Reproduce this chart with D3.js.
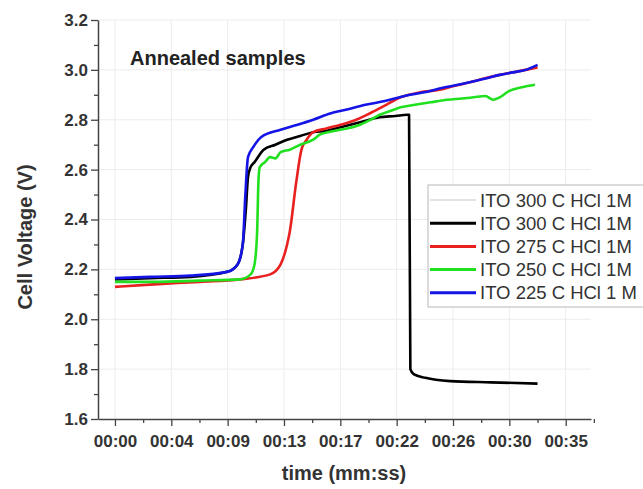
<!DOCTYPE html>
<html lang="en">
<head>
    <meta charset="UTF-8">
    <title>Annealed samples - Cell Voltage</title>
    <script src="https://d3js.org/d3.v7.min.js"></script>
    <style>
        body {
            margin: 0;
            background-color: #ffffff;
        }
        text {
            font-family: 'Liberation Sans', Arial, sans-serif;
        }
    </style>
</head>
<body>
    <script>
        // Data (time in seconds, voltage in V)
        const seriesNames = ["ITO 300 C HCl 1M", "ITO 300 C HCl 1M", "ITO 275 C HCl 1M", "ITO 250 C HCl 1M", "ITO 225 C HCl 1 M"];
        const seriesColors = ["#c8c8c8", "#000000", "#e82020", "#20e020", "#1414e6"];

        const ito300aTime = [];
        const ito300aVolt = [];

        const ito300Time = [0, 2.7, 5.8, 8.6, 9.4, 9.8, 10.05, 10.2, 10.4, 10.7, 11.4, 12.3, 13.2, 14.2, 15.2, 16.2, 17.3, 18.8, 20.3, 21.5, 22.4, 22.55, 22.65, 22.9, 23.8, 25.7, 28.8, 32.4];
        const ito300Volt = [2.16, 2.165, 2.17, 2.19, 2.22, 2.30, 2.45, 2.57, 2.61, 2.63, 2.68, 2.70, 2.72, 2.735, 2.75, 2.755, 2.77, 2.79, 2.81, 2.815, 2.82, 2.82, 1.80, 1.78, 1.765, 1.752, 1.747, 1.742];

        const ito275Time = [0, 3.0, 6.5, 9.6, 11.9, 12.7, 13.2, 13.4, 13.9, 14.3, 14.7, 15.2, 16.2, 17.3, 18.5, 19.7, 20.8, 21.9, 23.4, 24.9, 26.0, 27.2, 28.3, 29.5, 31.0, 32.4];
        const ito275Volt = [2.13, 2.14, 2.15, 2.16, 2.18, 2.22, 2.30, 2.35, 2.55, 2.68, 2.72, 2.75, 2.765, 2.78, 2.80, 2.83, 2.86, 2.89, 2.91, 2.92, 2.935, 2.95, 2.965, 2.98, 2.995, 3.01];

        const ito250Time = [0, 3.0, 6.5, 9.6, 10.4, 10.7, 10.9, 11.0, 11.1, 11.5, 11.9, 12.3, 12.7, 13.4, 14.2, 15.2, 15.7, 16.8, 17.8, 18.8, 19.6, 20.3, 21.1, 21.9, 23.0, 24.2, 25.5, 26.6, 27.5, 28.4, 29.0, 29.5, 30.2, 31.2, 32.2];
        const ito250Volt = [2.15, 2.15, 2.155, 2.16, 2.18, 2.22, 2.35, 2.55, 2.61, 2.63, 2.65, 2.645, 2.67, 2.68, 2.70, 2.72, 2.74, 2.755, 2.765, 2.78, 2.80, 2.82, 2.835, 2.85, 2.86, 2.87, 2.88, 2.885, 2.89, 2.895, 2.88, 2.89, 2.915, 2.93, 2.94];

        const ito225Time = [0, 2.7, 5.8, 8.6, 9.4, 9.8, 10.0, 10.2, 10.6, 11.2, 12.7, 14.0, 15.2, 16.5, 17.7, 19.2, 20.7, 22.2, 23.7, 25.3, 26.3, 27.2, 28.4, 29.5, 30.5, 31.5, 32.4];
        const ito225Volt = [2.165, 2.17, 2.175, 2.19, 2.22, 2.30, 2.50, 2.65, 2.69, 2.73, 2.76, 2.78, 2.80, 2.825, 2.84, 2.86, 2.875, 2.895, 2.91, 2.93, 2.94, 2.95, 2.965, 2.98, 2.99, 3.00, 3.02];

        const seriesTimes = [ito300aTime, ito300Time, ito275Time, ito250Time, ito225Time];
        const seriesVolts = [ito300aVolt, ito300Volt, ito275Volt, ito250Volt, ito225Volt];

        // x ticks every 4.32 s, labelled as mm:ss
        const xTickValues = [0, 4.32, 8.64, 12.96, 17.28, 21.6, 25.92, 30.24, 34.56];
        const xTickLabels = ["00:00", "00:04", "00:09", "00:13", "00:17", "00:22", "00:26", "00:30", "00:35"];
        const yTickValues = [1.6, 1.8, 2.0, 2.2, 2.4, 2.6, 2.8, 3.0, 3.2];

        const width = 643, height = 489;

        const x = d3.scaleLinear().domain([-1.3, 36.5]).range([98, 591]);
        const y = d3.scaleLinear().domain([1.6, 3.2]).range([419, 20]);

        const svg = d3.select("body").append("svg")
            .attr("width", width)
            .attr("height", height);

        // faint grid
        svg.append("g").selectAll("line")
            .data(xTickValues)
            .enter().append("line")
            .attr("x1", d => x(d)).attr("x2", d => x(d))
            .attr("y1", y(3.2)).attr("y2", y(1.6))
            .attr("stroke", "#ececec").attr("stroke-width", 1);
        svg.append("g").selectAll("line")
            .data(yTickValues.slice(1))
            .enter().append("line")
            .attr("x1", x.range()[0]).attr("x2", x.range()[1])
            .attr("y1", d => y(d)).attr("y2", d => y(d))
            .attr("stroke", "#ececec").attr("stroke-width", 1);

        // Lines
        const line = d3.line()
            .curve(d3.curveMonotoneX)
            .x(d => x(d[0]))
            .y(d => y(d[1]));

        seriesTimes.forEach(function(times, i) {
            if (!times.length) return;
            const pts = times.map((t, j) => [t, seriesVolts[i][j]]);
            svg.append("path")
                .datum(pts)
                .attr("fill", "none")
                .attr("stroke", seriesColors[i])
                .attr("stroke-width", 2.6)
                .attr("stroke-linejoin", "round")
                .attr("d", line);
        });

        // x axis with minor ticks
        const xMinor = xTickValues.map(d => d + 2.16);
        svg.append("g")
            .attr("transform", "translate(0," + y(1.6) + ")")
            .call(d3.axisBottom(x).tickValues(xMinor).tickSize(4).tickFormat(""))
            .call(g => g.select(".domain").remove())
            .selectAll("line").attr("stroke", "#444").attr("stroke-width", 1.3);

        const xAxis = svg.append("g")
            .attr("transform", "translate(0," + y(1.6) + ")")
            .call(d3.axisBottom(x).tickValues(xTickValues).tickSize(7).tickSizeOuter(0)
                .tickFormat((d, i) => xTickLabels[i]));
        xAxis.select(".domain").attr("stroke", "#444").attr("stroke-width", 1.5);
        xAxis.selectAll("line").attr("stroke", "#444").attr("stroke-width", 1.3);
        xAxis.selectAll("text")
            .attr("dy", "1.05em")
            .style("font-size", "17px").style("font-weight", "bold").attr("fill", "#333");

        // y axis with minor ticks
        const yMinor = yTickValues.slice(0, -1).map(d => d + 0.1);
        svg.append("g")
            .attr("transform", "translate(" + x.range()[0] + ",0)")
            .call(d3.axisLeft(y).tickValues(yMinor).tickSize(4).tickFormat(""))
            .call(g => g.select(".domain").remove())
            .selectAll("line").attr("stroke", "#444").attr("stroke-width", 1.3);

        const yAxis = svg.append("g")
            .attr("transform", "translate(" + x.range()[0] + ",0)")
            .call(d3.axisLeft(y).tickValues(yTickValues).tickSize(7).tickSizeOuter(0)
                .tickFormat(d3.format(".1f")));
        yAxis.select(".domain").attr("stroke", "#444").attr("stroke-width", 1.5);
        yAxis.selectAll("line").attr("stroke", "#444").attr("stroke-width", 1.3);
        yAxis.selectAll("text")
            .attr("x", -10)
            .style("font-size", "17px").style("font-weight", "bold").attr("fill", "#333");

        // Axis titles
        svg.append("text")
            .attr("x", 344).attr("y", 480)
            .attr("text-anchor", "middle")
            .style("font-size", "20px").style("font-weight", "bold").attr("fill", "#333")
            .text("time (mm:ss)");

        svg.append("text")
            .attr("transform", "translate(32,237) rotate(-90)")
            .attr("text-anchor", "middle")
            .style("font-size", "20px").style("font-weight", "bold").attr("fill", "#333")
            .text("Cell Voltage (V)");

        // annotation
        svg.append("text")
            .attr("x", 130).attr("y", 65)
            .style("font-size", "20px").style("font-weight", "bold").attr("fill", "#222")
            .text("Annealed samples");

        // Legend
        const legend = svg.append("g").attr("transform", "translate(428,185)");
        legend.append("rect")
            .attr("width", 240).attr("height", 122)
            .attr("fill", "#fff").attr("stroke", "#c4c4c4").attr("stroke-width", 1.2);
        seriesNames.forEach(function(name, i) {
            const row = legend.append("g").attr("transform", "translate(0," + (15 + i * 23.2) + ")");
            row.append("line")
                .attr("x1", 2).attr("x2", 48)
                .attr("stroke", seriesColors[i])
                .attr("stroke-width", i === 0 ? 1.2 : 3);
            row.append("text")
                .attr("x", 52).attr("y", 6.5)
                .style("font-size", "18.5px").attr("fill", "#333")
                .text(name);
        });
    </script>
</body>
</html>
